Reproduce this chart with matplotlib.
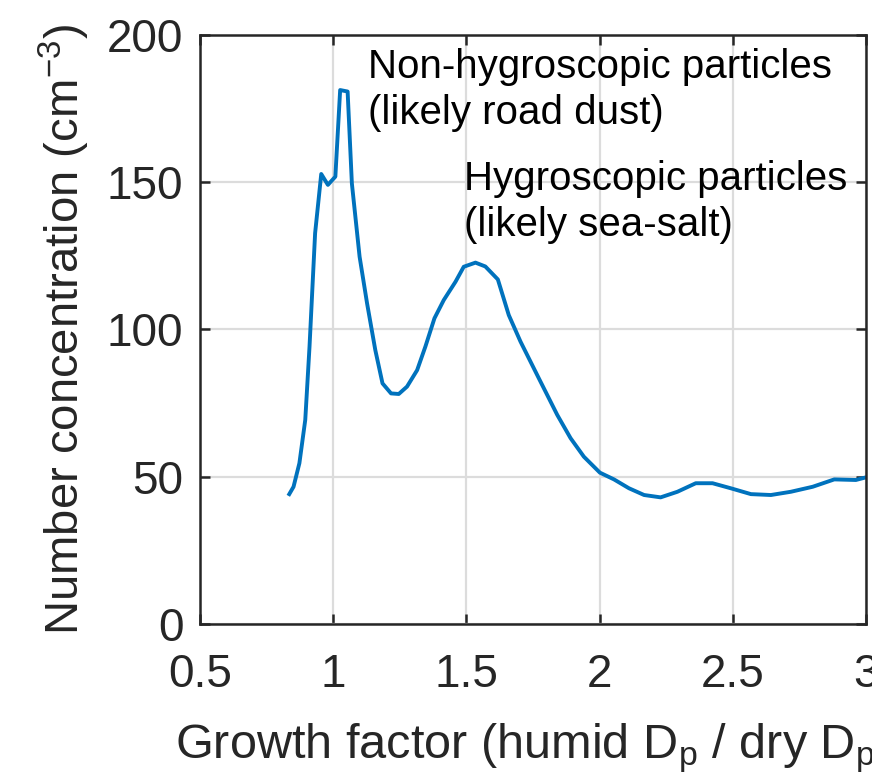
import matplotlib
matplotlib.use('Agg')
import matplotlib.pyplot as plt
from matplotlib import font_manager

# growth factor distribution
gf = [0.835, 0.851, 0.873, 0.895, 0.911, 0.932, 0.955, 0.980, 1.008, 1.026,
      1.054, 1.070, 1.099, 1.127, 1.158, 1.185, 1.217, 1.246, 1.277, 1.315,
      1.346, 1.380, 1.415, 1.459, 1.490, 1.534, 1.571, 1.618, 1.659, 1.703,
      1.772, 1.841, 1.891, 1.941, 2.001, 2.054, 2.110, 2.167, 2.229, 2.292,
      2.361, 2.424, 2.492, 2.568, 2.643, 2.718, 2.800, 2.881, 2.962, 3.000]
conc = [44.1, 46.6, 54.6, 69.3, 94.2, 132.7, 152.8, 149.1, 151.9, 181.3,
        180.8, 149.6, 124.7, 108.9, 93.0, 81.7, 78.3, 78.1, 80.6, 86.2,
        94.2, 103.8, 110.0, 116.2, 121.3, 122.7, 121.4, 117.0, 104.9, 95.9,
        83.4, 71.0, 63.1, 56.8, 51.4, 49.1, 46.1, 43.8, 43.0, 44.9,
        47.8, 47.8, 46.1, 44.1, 43.8, 44.9, 46.6, 49.1, 48.9, 49.8]

xticks = [0.5, 1, 1.5, 2, 2.5, 3]
yticks = [0, 50, 100, 150, 200]

names = {f.name for f in font_manager.fontManager.ttflist}
axis_font = 'Liberation Sans Narrow' if 'Liberation Sans Narrow' in names else 'Liberation Sans'
plt.rcParams['font.family'] = ['Liberation Sans', 'DejaVu Sans']
plt.rcParams['mathtext.default'] = 'regular'

dark = '#262626'

fig = plt.figure(figsize=(8.72, 7.72), dpi=100)
ax = fig.add_axes([0.2294, 0.1917, 0.7637, 0.763])
ax.plot(gf, conc, color='#0072BD', lw=2.8, solid_joinstyle='round')

ax.set_xlim(0.5, 3)
ax.set_ylim(0, 200)
ax.set_xticks(xticks)
ax.set_xticklabels([f'{t:g}' for t in xticks])
ax.set_yticks(yticks)
ax.grid(True, color='#dcdcdc', lw=1.6)
ax.set_axisbelow(True)
for s in ax.spines.values():
    s.set_color(dark)
    s.set_linewidth(1.8)
ax.tick_params(direction='in', length=7, width=1.8, colors=dark,
               labelsize=33, top=True, right=True)
ax.tick_params(axis='y', pad=12)
ax.tick_params(axis='x', pad=21)
for lab in ax.get_xticklabels() + ax.get_yticklabels():
    lab.set_family([axis_font, 'DejaVu Sans'])

ax.set_xlabel('Growth factor (humid D$_{p}$ / dry D$_{p}$)', fontsize=35,
              color=dark, family=[axis_font, 'DejaVu Sans'], labelpad=17)
ax.set_ylabel('Number concentration (cm$^{-3}$)', fontsize=34,
              color=dark, family=[axis_font, 'DejaVu Sans'], labelpad=11)

ax.text(1.13, 195.5, 'Non-hygroscopic particles\n(likely road dust)', fontsize=29,
        va='top', ha='left', linespacing=1.25)
ax.text(1.49, 157.5, 'Hygroscopic particles\n(likely sea-salt)', fontsize=29,
        va='top', ha='left', linespacing=1.25)

fig.savefig('out.png', dpi=100)
